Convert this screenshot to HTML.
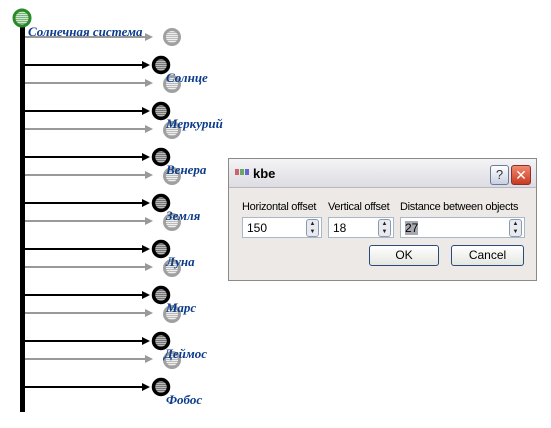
<!DOCTYPE html>
<html><head><meta charset="utf-8"><style>
body{margin:0;width:551px;height:428px;background:#fff;position:relative;overflow:hidden;font-family:"Liberation Sans",sans-serif}
.lbl{font-family:"Liberation Serif",serif;font-weight:bold;font-style:italic;font-size:13px;fill:#0b3c8c}
#dlg{position:absolute;left:228px;top:158px;width:307px;height:121px;border:1px solid #8a8a8a;background:#ece9e6}
#tb{height:28px;background:linear-gradient(#f4f4f6,#dcdce2);border-bottom:1px solid #b8b8c0;position:relative}
.t{position:absolute;font-size:11px;color:#000;white-space:nowrap;letter-spacing:-0.3px}
.in{position:absolute;top:58px;height:19px;background:#fff;border:1px solid #a8b8c8;font-size:12px}
.in span{position:absolute;left:4px;top:3px}
.sp{position:absolute;right:2px;top:1px;width:11px;height:16px;border:1px solid #8a9ab0;border-radius:3px;background:#e8eaf0;font-size:6px;line-height:8px;text-align:center;color:#222}
.btn{position:absolute;top:86px;height:19px;border:1px solid #2a4a7a;border-radius:3px;background:linear-gradient(#fff,#e6e6e0);font-size:12px;text-align:center;line-height:19px}
</style></head><body>
<svg width="551" height="428" style="position:absolute;left:0;top:0">
<defs>
<pattern id="st" width="4" height="2" patternUnits="userSpaceOnUse"><rect width="4" height="1" fill="#bbb"/><rect y="1" width="4" height="1" fill="#777"/></pattern>
<pattern id="stg" width="4" height="2" patternUnits="userSpaceOnUse"><rect width="4" height="1" fill="#eee"/><rect y="1" width="4" height="1" fill="#bbb"/></pattern>
<pattern id="stgr" width="4" height="2" patternUnits="userSpaceOnUse"><rect width="4" height="1" fill="#cfe8cf"/><rect y="1" width="4" height="1" fill="#7bb57b"/></pattern>
<g id="blk"><circle r="7.5" fill="url(#st)" stroke="#000" stroke-width="3.5"/></g>
<g id="gry"><circle r="7.5" fill="url(#stg)" stroke="#a0a0a0" stroke-width="3"/></g>
</defs>
<rect x="20" y="24" width="5" height="388" fill="#000"/>
<circle cx="22" cy="18" r="8" fill="url(#stgr)" stroke="#2a8a2a" stroke-width="3"/>
<line x1="25" y1="37" x2="145" y2="37" stroke="#999" stroke-width="2"/><polygon points="145,33 153,37 145,41" fill="#999"/><use href="#gry" x="172" y="37"/>
<g stroke-width="2">
<line x1="25" y1="65" x2="143" y2="65" stroke="#000"/><line x1="25" y1="83" x2="145" y2="83" stroke="#999"/>
<line x1="25" y1="111" x2="143" y2="111" stroke="#000"/><line x1="25" y1="129" x2="145" y2="129" stroke="#999"/>
<line x1="25" y1="157" x2="143" y2="157" stroke="#000"/><line x1="25" y1="175" x2="145" y2="175" stroke="#999"/>
<line x1="25" y1="203" x2="143" y2="203" stroke="#000"/><line x1="25" y1="221" x2="145" y2="221" stroke="#999"/>
<line x1="25" y1="249" x2="143" y2="249" stroke="#000"/><line x1="25" y1="267" x2="145" y2="267" stroke="#999"/>
<line x1="25" y1="295" x2="143" y2="295" stroke="#000"/><line x1="25" y1="313" x2="145" y2="313" stroke="#999"/>
<line x1="25" y1="341" x2="143" y2="341" stroke="#000"/><line x1="25" y1="359" x2="145" y2="359" stroke="#999"/>
<line x1="25" y1="387" x2="143" y2="387" stroke="#000"/>
</g>
<g fill="#000">
<polygon points="142,61 150,65 142,69"/><polygon points="142,107 150,111 142,115"/><polygon points="142,153 150,157 142,161"/><polygon points="142,199 150,203 142,207"/><polygon points="142,245 150,249 142,253"/><polygon points="142,291 150,295 142,299"/><polygon points="142,337 150,341 142,345"/><polygon points="142,383 150,387 142,391"/>
</g>
<g fill="#999">
<polygon points="145,79 153,83 145,87"/><polygon points="145,125 153,129 145,133"/><polygon points="145,171 153,175 145,179"/><polygon points="145,217 153,221 145,225"/><polygon points="145,263 153,267 145,271"/><polygon points="145,309 153,313 145,317"/><polygon points="145,355 153,359 145,363"/>
</g>
<use href="#gry" x="172" y="84"/><use href="#gry" x="172" y="130"/><use href="#gry" x="172" y="176"/><use href="#gry" x="172" y="222"/><use href="#gry" x="172" y="268"/><use href="#gry" x="172" y="314"/><use href="#gry" x="172" y="360"/>
<use href="#blk" x="161" y="65"/><use href="#blk" x="161" y="111"/><use href="#blk" x="161" y="157"/><use href="#blk" x="161" y="203"/><use href="#blk" x="161" y="249"/><use href="#blk" x="161" y="295"/><use href="#blk" x="161" y="341"/><use href="#blk" x="161" y="387"/>
<text class="lbl" x="28" y="36">Солнечная система</text>
<text class="lbl" x="166" y="82">Солнце</text>
<text class="lbl" x="166" y="128">Меркурий</text>
<text class="lbl" x="166" y="174">Венера</text>
<text class="lbl" x="166" y="220">Земля</text>
<text class="lbl" x="166" y="266">Луна</text>
<text class="lbl" x="166" y="312">Марс</text>
<text class="lbl" x="164" y="358">Деймос</text>
<text class="lbl" x="166" y="404">Фобос</text>
</svg>
<div id="dlg">
<div id="tb">
<div style="position:absolute;left:6px;top:10px;width:4px;height:6px;background:#c66"></div><div style="position:absolute;left:11px;top:10px;width:4px;height:6px;background:#6a6"></div><div style="position:absolute;left:16px;top:10px;width:4px;height:6px;background:#66c"></div>
<div class="t" style="left:24px;top:7px;font-weight:bold;font-size:13px;letter-spacing:0">kbe</div>
<div style="position:absolute;left:261px;top:6px;width:17px;height:18px;border:1px solid #6a7a9a;border-radius:3px;background:linear-gradient(#fff,#c8d0e0);text-align:center;font-size:13px;line-height:18px;color:#334">?</div>
<div style="position:absolute;left:282px;top:6px;width:18px;height:18px;border:1px solid #8a3030;border-radius:3px;background:linear-gradient(#f08a70,#c83a20);text-align:center;font-size:14px;line-height:18px;color:#fff">✕</div>
</div>
<div class="t" style="left:13px;top:42px">Horizontal offset</div>
<div class="t" style="left:99px;top:42px">Vertical offset</div>
<div class="t" style="left:171px;top:42px">Distance between objects</div>
<div class="in" style="left:13px;width:78px"><span>150</span><div class="sp">▲<br>▼</div></div>
<div class="in" style="left:99px;width:64px"><span>18</span><div class="sp">▲<br>▼</div></div>
<div class="in" style="left:171px;width:123px"><span style="background:#a8a8b0">27</span><div class="sp">▲<br>▼</div></div>
<div class="btn" style="left:140px;width:68px">OK</div>
<div class="btn" style="left:222px;width:71px">Cancel</div>
</div>
</body></html>
